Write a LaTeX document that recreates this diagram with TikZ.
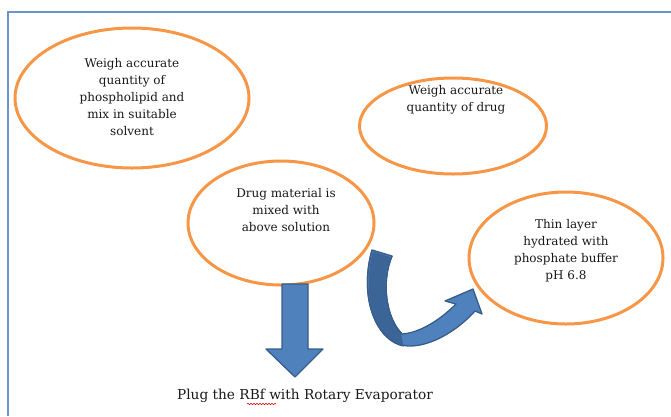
\documentclass[tikz,border=0pt]{standalone}
\usepackage{fontspec}
\setmainfont{DejaVu Serif}
\usetikzlibrary{shapes.geometric,decorations.pathmorphing}

\definecolor{orangeline}{HTML}{F79646}
\definecolor{pfeilblau}{HTML}{4F81BD}
\definecolor{pfeildunkel}{HTML}{3B6497}
\definecolor{pfeilrand}{HTML}{385D8A}
\definecolor{rahmen}{HTML}{6C93CB}

\tikzset{
  blase/.style={ellipse, draw=orangeline, line width=3pt},
  txt/.style={align=center, font=\fontsize{12}{17}\selectfont, text=black!90},
  blockpfeil/.style={fill=pfeilblau, draw=pfeilrand, line width=1.3pt, line join=round}
}

\begin{document}
\begin{tikzpicture}[x=1pt,y=-1pt]
			\useasboundingbox (0,0) rectangle (671,416);

			% Rahmen (nur links und oben)
			\draw[rahmen, line width=1.4pt] (8,416) -- (8,12) -- (671,12);

			% Ellipsen zeichnen
			\node[blase, minimum width=234pt, minimum height=140pt] (lipid) at (132,98) {};
			\node[blase, minimum width=187pt, minimum height=96pt] (drug) at (453,126) {};
			\node[blase, minimum width=186pt, minimum height=124pt] (mix) at (281,223) {};
			\node[blase, minimum width=194pt, minimum height=132pt] (layer) at (566,258) {};

			% Beschriftung der Ellipsen
			\node[txt] (lipidtext) at (132,97) {Weigh accurate\\quantity of\\phospholipid and\\mix in suitable\\solvent};
			\node[txt] (drugtext) at (456,100) {Weigh accurate\\quantity of drug};
			\node[txt] (mixtext) at (286,210) {Drug material is\\mixed with\\above solution};
			\node[txt] (layertext) at (566,251) {Thin layer\\hydrated with\\phosphate buffer\\pH 6.8};

			% Pfeil nach unten
			\draw[blockpfeil] (282,284) -- (308,284) -- (308,349) -- (323,349) -- (295,377)
				-- (266,349) -- (282,349) -- cycle;

			% gebogener Pfeil zur Ellipse rechts
			\draw[blockpfeil] (372,250) .. controls (358,300) and (378,346) .. (410,346)
				.. controls (432,346) and (458,330) .. (475,311) -- (482,314) -- (473,289)
				-- (445,301) -- (456,304) .. controls (438,322) and (418,333) .. (402,334)
				.. controls (386,318) and (381,282) .. (392,256) -- cycle;
			\fill[pfeildunkel] (373,251.5) .. controls (360,300) and (378,340) .. (403,345)
				-- (401,333) .. controls (386,318) and (380,282) .. (390.5,257) -- cycle;
			\draw[pfeilrand, line width=1.3pt, line join=round] (372,250) .. controls (358,300) and (378,342) .. (404,346)
				(392,256) .. controls (381,282) and (386,318) .. (402,334);

			% Text unten
			\node[font=\fontsize{13.7}{17}\selectfont, text=black!90] (plug) at (305,396) {Plug the RBf with Rotary Evaporator};
			\draw[red!85!black, line width=0.5pt, decorate, decoration={snake, amplitude=0.8pt, segment length=3pt}]
				(247,404) -- (276,404); % Rechtschreibmarkierung
\end{tikzpicture}
\end{document}
